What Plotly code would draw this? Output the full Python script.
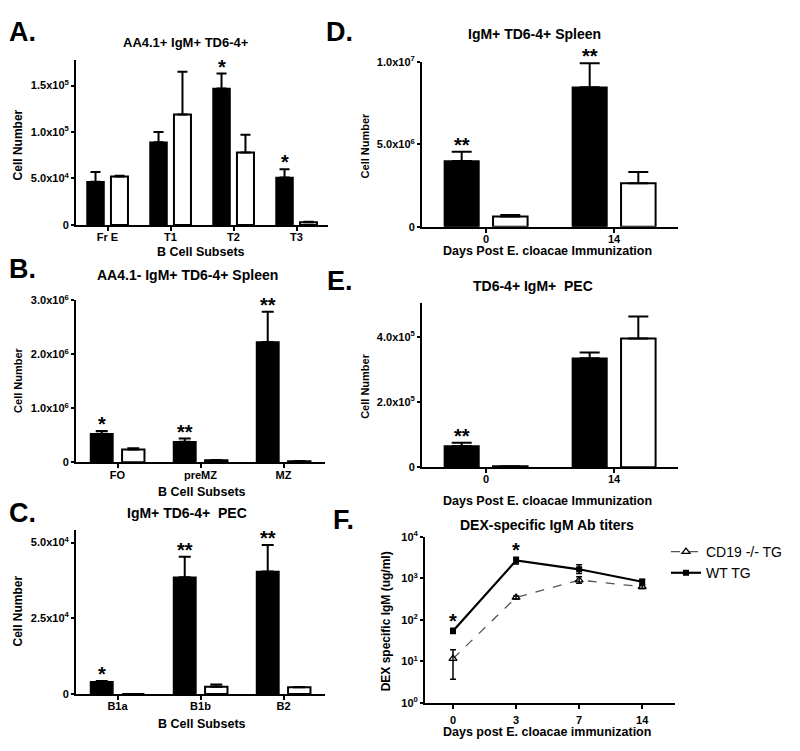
import math
import plotly.graph_objects as go

FONT = "Liberation Sans, Arial, Helvetica, sans-serif"

# ---------------- data ----------------
# Black bars = WT TG, white bars = CD19 -/- TG
A_cats = ["Fr E", "T1", "T2", "T3"]
A_wt = [4.65e4, 8.9e4, 1.47e5, 5.1e4]
A_wt_err = [1.05e4, 1.1e4, 1.6e4, 0.9e4]
A_ko = [5.2e4, 1.19e5, 7.8e4, 2.8e3]
A_ko_err = [1.0e3, 4.6e4, 1.9e4, 5.0e2]
A_stars = ["", "", "*", "*"]
A_yticks = [0, 5e4, 1e5, 1.5e5]
A_yticktext = ["0", "5.0x10<sup>4</sup>", "1.0x10<sup>5</sup>", "1.5x10<sup>5</sup>"]

B_cats = ["FO", "preMZ", "MZ"]
B_wt = [0.53e6, 0.38e6, 2.23e6]
B_wt_err = [0.05e6, 0.06e6, 0.56e6]
B_ko = [0.24e6, 0.04e6, 0.02e6]
B_ko_err = [0.02e6, 0.005e6, 0.005e6]
B_stars = ["*", "**", "**"]
B_yticks = [0, 1e6, 2e6, 3e6]
B_yticktext = ["0", "1.0x10<sup>6</sup>", "2.0x10<sup>6</sup>", "3.0x10<sup>6</sup>"]

C_cats = ["B1a", "B1b", "B2"]
C_wt = [4.0e3, 3.85e4, 4.04e4]
C_wt_err = [3.0e2, 6.8e3, 8.8e3]
C_ko = [0, 2.4e3, 2.2e3]
C_ko_err = [0, 7.0e2, 1.0e2]
C_stars = ["*", "**", "**"]
C_yticks = [0, 2.5e4, 5e4]
C_yticktext = ["0", "2.5x10<sup>4</sup>", "5.0x10<sup>4</sup>"]

D_cats = ["0", "14"]
D_wt = [4.0e6, 8.46e6]
D_wt_err = [0.56e6, 1.46e6]
D_ko = [0.62e6, 2.64e6]
D_ko_err = [0.1e6, 0.68e6]
D_stars = ["**", "**"]
D_yticks = [0, 5e6, 1e7]
D_yticktext = ["0", "5.0x10<sup>6</sup>", "1.0x10<sup>7</sup>"]

E_cats = ["0", "14"]
E_wt = [6.5e4, 3.35e5]
E_wt_err = [1.0e4, 1.7e4]
E_ko = [3.0e3, 3.95e5]
E_ko_err = [0, 6.8e4]
E_stars = ["**", ""]
E_yticks = [0, 2e5, 4e5]
E_yticktext = ["0", "2.0x10<sup>5</sup>", "4.0x10<sup>5</sup>"]

F_days = ["0", "3", "7", "14"]
F_wt = [54, 2700, 1660, 830]
F_wt_plus = [9, 540, 480, 130]
F_wt_minus = [7, 460, 350, 140]
F_ko = [11.6, 347, 910, 630]
F_ko_plus = [7.4, 30, 180, 70]
F_ko_minus = [7.9, 30, 150, 60]
F_stars = ["*", "*", "", ""]
F_yticks = [1, 10, 100, 1000, 10000]
F_yticktext = ["10<sup>0</sup>", "10<sup>1</sup>", "10<sup>2</sup>", "10<sup>3</sup>", "10<sup>4</sup>"]

# ---------------- layout helpers ----------------
W, H = 800, 751


def fx(p):
    return p / W


def fy(p):
    return 1 - p / H


fig = go.Figure()
annotations = []


def ann(text, x, y, size, angle=0, weight="bold", xanchor="center", yanchor="middle"):
    annotations.append(dict(
        text=text, x=fx(x), y=fy(y), xref="paper", yref="paper",
        showarrow=False, textangle=angle, xanchor=xanchor, yanchor=yanchor,
        font=dict(family=FONT, size=size, color="black", weight=weight)))


def axis_common():
    return dict(showline=True, linecolor="black", linewidth=2, ticks="outside",
                tickcolor="black", tickwidth=2, showgrid=False, zeroline=False,
                tickfont=dict(family=FONT, size=11, color="black", weight="bold"))


BW = 0.27
panels = [
    dict(n=1, cats=A_cats, wt=A_wt, wte=A_wt_err, ko=A_ko, koe=A_ko_err, stars=A_stars,
         yt=A_yticks, ytt=A_yticktext, xd=(76, 328), yd=(53, 221), yr=[0, 1.776e5], ew=5),
    dict(n=2, cats=B_cats, wt=B_wt, wte=B_wt_err, ko=B_ko, koe=B_ko_err, stars=B_stars,
         yt=B_yticks, ytt=B_yticktext, xd=(76, 325), yd=(298, 463), yr=[0, 3.0e6], ew=6),
    dict(n=3, cats=C_cats, wt=C_wt, wte=C_wt_err, ko=C_ko, koe=C_ko_err, stars=C_stars,
         yt=C_yticks, ytt=C_yticktext, xd=(76, 325), yd=(532, 699), yr=[0, 5.41e4], ew=6),
    dict(n=4, cats=D_cats, wt=D_wt, wte=D_wt_err, ko=D_ko, koe=D_ko_err, stars=D_stars,
         yt=D_yticks, ytt=D_yticktext, xd=(422, 678), yd=(55, 223), yr=[0, 1.0e7], ew=10),
    dict(n=5, cats=E_cats, wt=E_wt, wte=E_wt_err, ko=E_ko, koe=E_ko_err, stars=E_stars,
         yt=E_yticks, ytt=E_yticktext, xd=(422, 678), yd=(301, 468), yr=[0, 5.03e5], ew=10),
]

layout_axes = {}
for p in panels:
    n = p["n"]
    xa, ya = f"x{n}", f"y{n}"
    fig.add_trace(go.Bar(
        x=p["cats"], y=p["wt"], width=BW, offset=-0.325, xaxis=xa, yaxis=ya,
        marker=dict(color="black", line=dict(color="black", width=1.5)),
        error_y=dict(type="data", symmetric=False, array=p["wte"], arrayminus=[0] * len(p["wt"]),
                     color="black", thickness=2, width=p["ew"]),
        showlegend=False, hoverinfo="skip"))
    fig.add_trace(go.Bar(
        x=p["cats"], y=p["ko"], width=BW, offset=0.055, xaxis=xa, yaxis=ya,
        marker=dict(color="white", line=dict(color="black", width=2)),
        error_y=dict(type="data", symmetric=False, array=p["koe"], arrayminus=[0] * len(p["ko"]),
                     color="black", thickness=2, width=p["ew"]),
        showlegend=False, hoverinfo="skip"))
    xax = axis_common()
    xax.update(domain=[fx(p["xd"][0]), fx(p["xd"][1])], anchor=ya, type="category",
               range=[-0.5, len(p["cats"]) - 0.5], ticklen=4, ticklabelstandoff=-3,
               fixedrange=True)
    yax = axis_common()
    yax.update(domain=[fy(p["yd"][1]), fy(p["yd"][0])], anchor=xa, range=p["yr"],
               tickvals=p["yt"], ticktext=p["ytt"], ticklen=3, fixedrange=True)
    key = "" if n == 1 else str(n)
    layout_axes[f"xaxis{key}"] = xax
    layout_axes[f"yaxis{key}"] = yax
    for i, s in enumerate(p["stars"]):
        if s:
            annotations.append(dict(
                text=s, x=i - 0.19, y=p["wt"][i] + p["wte"][i], xref=xa, yref=ya,
                showarrow=False, xanchor="center", yanchor="bottom", yshift=-6,
                font=dict(family=FONT, size=20, color="black", weight="bold")))

# ---------------- panel F ----------------
fig.add_trace(go.Scatter(
    x=F_days, y=F_ko, mode="lines+markers", name="CD19 -/- TG", xaxis="x6", yaxis="y6",
    line=dict(color="#555555", width=1.3, dash="dash"),
    marker=dict(symbol="triangle-up-open", size=7, color="black", line=dict(width=1.3, color="black")),
    error_y=dict(type="data", symmetric=False, array=F_ko_plus, arrayminus=F_ko_minus,
                 color="black", thickness=1.5, width=3)))
fig.add_trace(go.Scatter(
    x=F_days, y=F_wt, mode="lines+markers", name="WT TG", xaxis="x6", yaxis="y6",
    line=dict(color="black", width=2.2),
    marker=dict(symbol="square", size=6, color="black"),
    error_y=dict(type="data", symmetric=False, array=F_wt_plus, arrayminus=F_wt_minus,
                 color="black", thickness=1.5, width=3)))
xf = axis_common()
xf.update(domain=[fx(425), fx(675)], anchor="y6", type="category", range=[-0.444, 3.52],
          ticklen=4, ticklabelstandoff=2, fixedrange=True)
yf = axis_common()
yf.update(domain=[fy(708), fy(539)], anchor="x6", type="log", range=[0, 4],
          tickvals=F_yticks, ticktext=F_yticktext, ticklen=3, fixedrange=True)
layout_axes["xaxis6"] = xf
layout_axes["yaxis6"] = yf
for i, s in enumerate(F_stars):
    if s:
        annotations.append(dict(
            text=s, x=i, y=math.log10(F_wt[i] + F_wt_plus[i]), xref="x6", yref="y6",
            showarrow=False, xanchor="center", yanchor="bottom", yshift=-6,
            font=dict(family=FONT, size=20, color="black", weight="bold")))

# ---------------- texts ----------------
for letter, x, y in [("A.", 22, 24), ("B.", 22, 266), ("C.", 22, 515),
                     ("D.", 339, 24), ("E.", 340, 278), ("F.", 343, 522)]:
    ann(letter, x, y, 27)

ann("AA4.1+ IgM+ TD6-4+", 186, 35, 13)
ann("AA4.1- IgM+ TD6-4+ Spleen", 187, 272, 14)
ann("IgM+ TD6-4+  PEC", 187, 515, 14)
ann("IgM+ TD6-4+ Spleen", 534, 27, 14)
ann("TD6-4+ IgM+  PEC", 533, 283, 14)
ann("DEX-specific IgM Ab titers", 547, 527, 14)

ann("Cell Number", 18, 140, 12, angle=-90)
ann("Cell Number", 18, 379, 11, angle=-90)
ann("Cell Number", 18, 615, 12, angle=-90)
ann("Cell Number", 365, 140, 11, angle=-90)
ann("Cell Number", 365, 385, 11, angle=-90)
ann("DEX specific IgM (ug/ml)", 386, 625, 12, angle=-90)

ann("B Cell Subsets", 201, 249, 12.5)
ann("B Cell Subsets", 202, 493, 12.5)
ann("B Cell Subsets", 202, 730, 12.5)
ann("Days Post E. cloacae Immunization", 547, 248, 12.5)
ann("Days Post E. cloacae Immunization", 547, 502, 12.5)
ann("Days post E. cloacae immunization", 547, 738, 12.5)

fig.update_layout(
    width=W, height=H, margin=dict(l=0, r=0, t=0, b=0),
    paper_bgcolor="white", plot_bgcolor="white",
    barmode="overlay", annotations=annotations,
    font=dict(family=FONT, color="black"),
    legend=dict(x=fx(666), y=fy(538), xanchor="left", yanchor="top",
                bgcolor="rgba(0,0,0,0)", tracegroupgap=0,
                font=dict(family=FONT, size=14, color="black")),
    **layout_axes)

fig.write_html("out.html", config={"displayModeBar": False},
               post_script="document.body.style.margin='0px';")
